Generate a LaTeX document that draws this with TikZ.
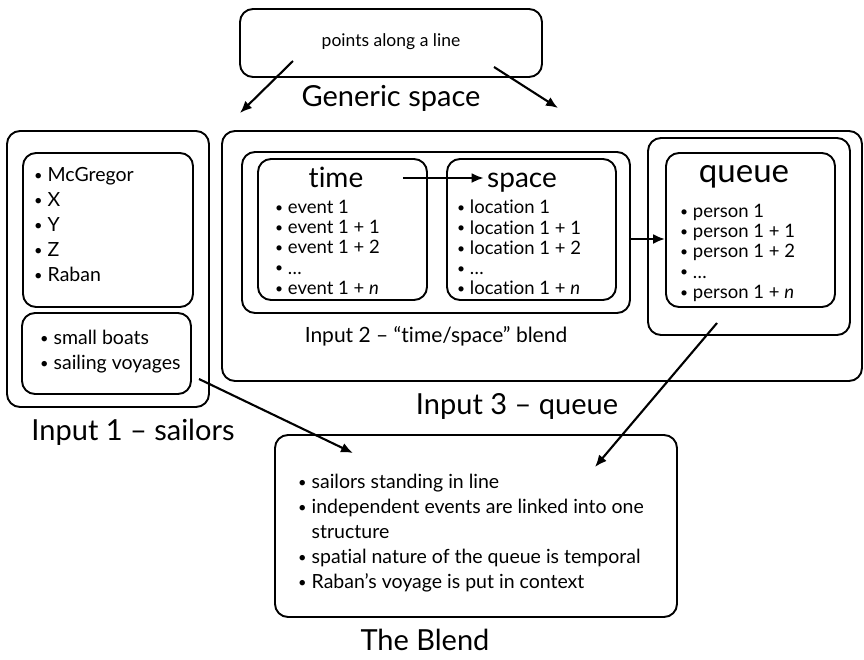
\documentclass[tikz,border=0pt]{standalone}
\usepackage{fontspec}
\setmainfont{Lato}[Ligatures=NoCommon]
\usetikzlibrary{arrows.meta}
\newcommand{\bul}{\raisebox{0.12ex}{\scalebox{0.75}{•}}\ }

\begin{document}
\begin{tikzpicture}[x=1pt, y=-1pt,
    box/.style={draw, line width=1.9pt, rounded corners=13pt, inner sep=0pt},
    lbl/.style={font=\fontsize{29}{32}\selectfont},
    head/.style={anchor=base, font=\fontsize{28}{30}\selectfont},
    items/.style={align=left, anchor=north west, inner sep=0pt, font=\fontsize{18.5}{20.2}\selectfont},
    biglist/.style={items, font=\fontsize{19.5}{25}\selectfont},
    arr/.style={-{Latex[length=12pt,width=10pt]}, line width=2.1pt}]
  \useasboundingbox (0,0) rectangle (864,659);
  % generic space
  \node[box, minimum width=302, minimum height=68] (gen) at (391,43) {};
  \node[font=\fontsize{17.5}{20}\selectfont] (gentxt) at (391,42) {points along a line};
  \node[lbl] (genlbl) at (391,98) {Generic space};
  % input 1
  \node[box, minimum width=202, minimum height=276] (in1) at (108,269) {};
  \node[box, minimum width=170, minimum height=154] (sailors) at (108,230) {};
  \node[box, minimum width=169, minimum height=81] (boats) at (106.5,353.5) {};
  \node[biglist] (sailorlist) at (34,167) {\bul McGregor\\\bul X\\\bul Y\\\bul Z\\\bul Raban};
  \node[biglist] (boatlist) at (40,330) {\bul small boats\\\bul sailing voyages};
  \node[lbl] (in1lbl) at (133,432) {Input 1 – sailors};
  % input 3 and input 2
  \node[box, minimum width=640, minimum height=250] (in3) at (542,256) {};
  \node[box, minimum width=388, minimum height=161] (in2) at (436,232.5) {};
  \node[box, minimum width=169, minimum height=141] (timebox) at (342.5,229.5) {};
  \node[box, minimum width=169, minimum height=141] (spacebox) at (531.5,229.5) {};
  \node[box, minimum width=202, minimum height=197] (queueout) at (749,236.5) {};
  \node[box, minimum width=169, minimum height=154] (queuebox) at (750.5,230) {};
  \node[head] (timet) at (336,187) {time};
  \node[head] (spacet) at (522,187) {space};
  \node[head, font=\fontsize{33}{35}\selectfont] (queuet) at (744,182) {queue};
  \node[items] (timelist) at (275,200) {\bul event 1\\\bul event 1 + 1\\\bul event 1 + 2\\\bul …\\\bul event 1 + \textit{n}};
  \node[items] (spacelist) at (457,200) {\bul location 1\\\bul location 1 + 1\\\bul location 1 + 2\\\bul …\\\bul location 1 + \textit{n}};
  \node[items] (queuelist) at (680,204) {\bul person 1\\\bul person 1 + 1\\\bul person 1 + 2\\\bul …\\\bul person 1 + \textit{n}};
  \node[font=\fontsize{21}{24}\selectfont] (in2lbl) at (436,336) {Input 2 – “time/space” blend};
  \node[lbl] (in3lbl) at (517,406) {Input 3 – queue};
  % blend
  \node[box, minimum width=402, minimum height=182] (blend) at (476,526) {};
  \node[biglist] (blendlist) at (298,474) {\bul sailors standing in line\\\bul independent events are linked into one\\\hphantom{\bul}structure\\\bul spatial nature of the queue is temporal\\\bul Raban’s voyage is put in context};
  \node[lbl, inner sep=0pt] (blendlbl) at (425,640) {The Blend};
  % arrows
  \coordinate (g1) at (293,61);
  \coordinate (g1e) at (240,113);
  \coordinate (g2) at (494,67);
  \coordinate (g2e) at (558,108);
  \coordinate (b1) at (199,379);
  \coordinate (b1e) at (353,453);
  \coordinate (q1) at (717,323);
  \coordinate (q1e) at (595,467);
  \draw[arr] (g1) -- (g1e);
  \draw[arr] (g2) -- (g2e);
  \draw[arr] ([xshift=36pt]timet.east |- 0,178) -- (spacet.west |- 0,178);
  \draw[arr] (in2.east |- 0,239) -- (queuebox.west |- 0,239);
  \draw[arr] (b1) -- (b1e);
  \draw[arr] (q1) -- (q1e);
\end{tikzpicture}
\end{document}
